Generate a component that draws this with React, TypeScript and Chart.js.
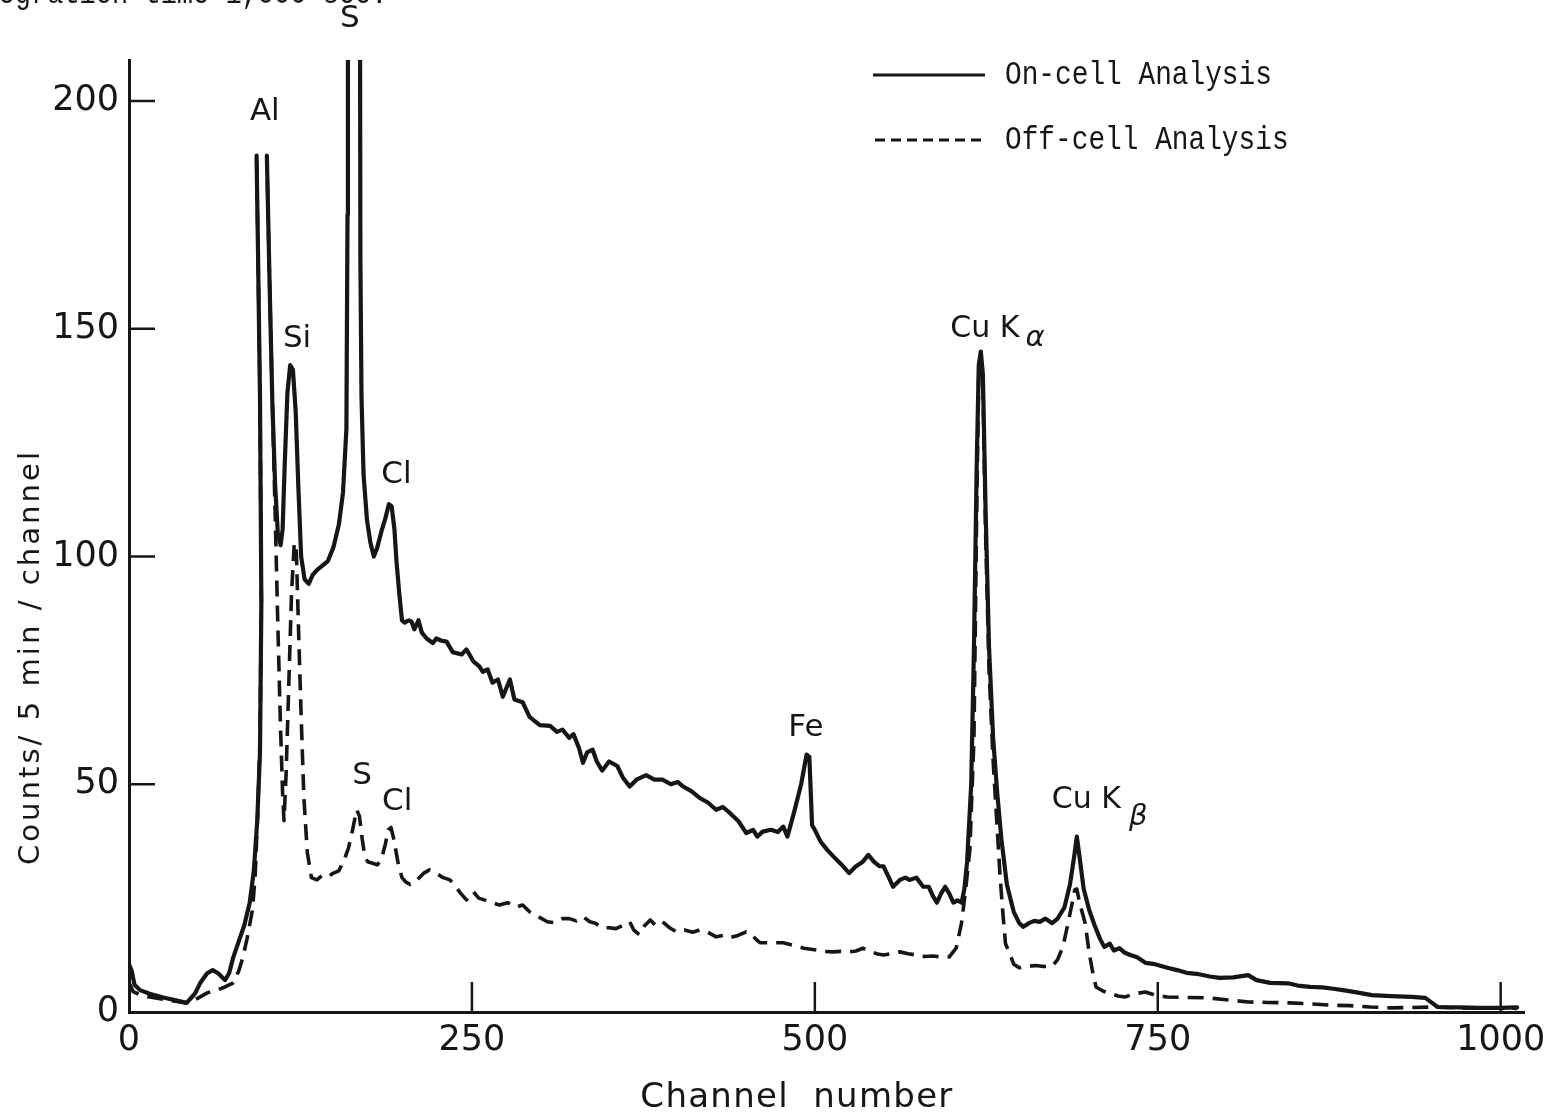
import React, { useEffect, useRef } from "react";
import { Chart, registerables } from "chart.js";

Chart.register(...registerables);

// ---------- data ----------
const seriesNames = ["On-cell Analysis", "Off-cell Analysis"];

const onCellX = [
  0, 2, 4, 8, 15, 25, 35, 42, 48, 52, 57, 61, 65, 70, 73, 76, 80, 84, 88, 91, 93.5, 95.5, 96.5, 95.5, 94, 93,
  96,
  100.5, 102.5, 104.5, 106.5, 108.5, 110.5, 112, 113.5, 115.5, 117.5, 119.5, 121.5, 123.5, 125.5, 128, 131, 134,
  137, 141, 145, 149, 153, 156, 158.5, 159.3, 159.6,
  164,
  168.3, 168.7, 169.5, 171, 173.5, 176, 178.5, 181, 184, 187, 189.5, 191.5, 193.5, 195, 197, 199, 201, 204, 206,
  208, 211, 213.5, 217, 221.5, 224, 228, 231.5, 236, 242.5, 246, 251, 255, 258, 261.5, 265, 269, 272.5, 277.7,
  281, 287, 292, 299.5, 307, 312, 316, 321, 324, 328, 331, 334, 338, 341, 345, 350, 356, 360, 365, 370, 377, 383,
  389, 395, 400, 404, 410, 416, 422, 428, 433, 438, 444, 450, 455, 458, 462, 468, 473, 477, 480, 485, 490, 494,
  496, 498, 500, 504, 509, 514, 519, 525, 530, 535, 539, 543, 547, 550, 554, 557, 562, 566, 569, 574, 579, 583,
  586, 589, 592, 595, 598, 601, 604, 607, 609, 611, 614, 616, 618, 619.5, 621, 622.5, 624.5, 627, 630, 633, 636,
  640, 645, 649, 652, 656, 660, 664, 668, 673, 677, 682, 686, 689, 691, 693, 696, 700, 704, 708, 711, 715, 718,
  722, 726, 730, 735, 741, 748, 757, 764, 771, 780, 788, 795, 805, 816, 822, 832, 845, 852, 861, 870, 878, 885,
  895, 906, 920, 935, 945, 950, 954, 970, 985, 1000, 1012,
];
const onCellY = [
  10.5, 9, 6, 4.8, 4, 3.2, 2.5, 2, 4, 6.4, 8.5, 9.2, 8.5, 7, 8.5, 12, 15.5, 19, 24, 31, 42, 57, 90, 135, 168, 188,
  null,
  188, 160, 134, 116, 105, 102.5, 106, 120, 136, 142, 141, 132, 115, 100, 95, 94, 96,
  97, 98, 99, 102, 107, 114, 128, 175, 240,
  null,
  240, 165, 135, 118, 108, 103, 100, 102, 105.5, 108.5, 111.5, 111, 106, 99, 92, 86, 85.5, 86, 85.7,
  84, 86, 83.3, 82, 81, 82, 81.5, 81.3, 79, 78.5, 79.6, 77, 76, 74.7, 75.2, 72.3, 73, 69.2, 73,
  68.6, 68, 64.8, 63, 62.8, 61.5, 62, 60.2, 61, 58, 54.7, 57, 57.6, 55, 53, 55, 54, 51.5, 49.5, 51, 52, 51,
  51, 50, 50.5, 49.5, 48.5, 47, 46, 44.4, 45, 43.7, 42, 39.3, 40, 38.5, 39.6, 40, 39.5, 40.7, 38.5, 44, 50, 56.5,
  56, 41, 40, 37.5, 35.6, 34, 32.5, 30.5, 32, 33, 34.5, 33, 32, 32, 29.5, 27.5, 29, 29.5, 29, 29.5, 27.5, 27.5,
  25.5, 24, 26, 27.5, 26, 24, 24.5, 24, 27, 33, 50, 80, 120, 142, 145, 140, 110, 80, 60, 48, 38,
  28, 22, 19.5, 18.7, 19.5, 20, 19.8, 20.5, 19.5, 20.5, 23, 28, 34, 38.5, 34, 27, 22.4, 19, 16, 14.3, 15, 13.5,
  14, 13, 12.5, 12, 10.8, 10.5, 9.7, 9.2, 8.6, 8.3, 7.8, 7.5, 7.6, 8.1, 7, 6.4, 6.3, 5.8, 5.5, 5.4, 5.1, 4.8,
  4.3, 3.7, 3.5, 3.3, 3.1, 2, 1.1, 1, 0.9, 0.9, 1,
];

const offCellX = [
  0, 3, 8, 15, 25, 35, 42, 50, 57, 64, 70, 76, 80, 83, 86, 90, 92, 94, 95.5, 96.5, 95.5, 94, 93,
  96,
  100.5, 102.5, 104.5, 106.5, 108.5, 110.5, 112, 113, 114.5, 116.5, 118.5, 120.5, 122, 123.5, 125.5, 127.5, 130,
  133, 137, 141, 145, 149, 153, 157, 160, 163, 166, 168, 170, 172, 174, 177, 181, 184, 187, 189, 191, 193, 196,
  199, 202, 205, 210, 215, 219, 224, 229, 234, 238, 242, 246, 251, 255, 260, 265, 270, 276, 282, 287, 292, 298,
  305, 310, 316, 321, 326, 331, 336, 340, 345, 350, 355, 360, 365, 368, 372, 376, 380, 384, 389, 394, 399, 405,
  411, 416, 422, 428, 433, 438, 444, 450, 453, 457, 460, 468, 477, 485, 492, 501, 507, 513, 519, 525, 530, 535,
  540, 545, 550, 556, 562, 568, 574, 580, 586, 592, 598, 603, 607, 610, 613, 616, 618, 619.5, 621, 622.5, 624.5,
  627, 630, 633, 635, 637, 639, 641, 645, 649, 655, 661, 667, 673, 677, 681, 684, 687, 689.5, 691, 693, 697, 700,
  703, 705, 710, 716, 721, 726, 733, 741, 749, 757, 770, 786, 800, 816, 830, 846, 860, 876, 890, 905, 921, 935,
  951, 970, 985, 1000, 1012,
];
const offCellY = [
  6.5, 4.5, 3.8, 3.3, 2.8, 2.3, 2, 3, 4.2, 4.8, 5.5, 6.4, 9, 12, 16, 22.4, 30, 45, 60, 90, 135, 168, 188,
  null,
  188, 160, 134, 110, 85, 62, 48, 42, 52, 72, 92, 103, 101, 85, 65, 47, 35,
  29.5, 29, 30, 29.7, 30.5, 31, 33.5, 36, 40, 44.4, 43, 38, 34, 33, 32.7, 32.3, 33.5, 37, 40, 40.5, 38, 33,
  29.5, 28.5, 28, 29, 30.5, 31.2, 30.5, 29.5, 29, 27.5, 26, 24.6, 26.4, 25, 24.5, 24, 23.5, 24, 23, 23.5, 22, 21,
  19.8, 19.6, 20.5, 20.5, 20, 20.9, 19.8, 19.5, 18.5, 18.5, 18.3, 19, 19.8, 18, 17, 19, 20.2, 19, 19.8, 18.5, 17.6, 18,
  17.5, 18, 17.5, 16.5, 16.8, 16.3, 16.8, 17.6, 17.3, 16, 15.2, 15.2, 15.2, 14.6, 14, 13.6, 13.3, 13.2, 13.3, 13.2, 13.4, 14,
  13.4, 12.8, 12.5, 12.8, 13.2, 12.8, 12.5, 12.2, 12.3, 12.1, 12.1, 14, 19.6, 27, 35.6, 60, 110, 140, 143, 138, 105,
  75, 55, 40, 30, 22, 15, 13.6, 10.5, 9.7, 10, 10.2, 10, 10, 11.5, 14.5, 18.7, 23, 26.8, 27, 24, 19.6, 13,
  8, 5.5, 4.6, 4, 3.5, 3.3, 4, 4.4, 3.6, 3.3, 3.2, 3.1, 2.7, 2.2, 2.1, 2, 1.8, 1.5, 1.4, 1.1, 0.9, 1,
  1.1, 0.9, 0.8, 0.9, 0.8,
];

const xTicks = [0, 250, 500, 750, 1000];
const yTicks = [0, 50, 100, 150, 200];

const xTitle = "Channel  number";
const yTitle = "Counts/ 5 min / channel";
const topNote = "Integration time 1,000 sec.";

// element labels placed in data coordinates
const peakLabels = [
  { text: "Al", x: 99, y: 197.6 },
  { text: "S", x: 161, y: 218 },
  { text: "Si", x: 122.5, y: 147.7 },
  { text: "Cl", x: 195, y: 118 },
  { text: "S", x: 170, y: 51.8 },
  { text: "Cl", x: 195.5, y: 46.2 },
  { text: "Fe", x: 493.5, y: 62.4 },
];
const greekLabels = [
  { text: "Cu K", sub: "α", x: 624, y: 150, dx: 6, dy: 10 },
  { text: "Cu K", sub: "β", x: 698, y: 46.6, dx: 8, dy: 18 },
];

const INK = "#161616";
const SANS = '"DejaVu Sans", "Noto Sans", sans-serif';
const MONO = '"Liberation Mono", "DejaVu Sans Mono", monospace';

const decorPlugin = {
  id: "decor",
  afterDraw(chart: any) {
    const ctx = chart.ctx as CanvasRenderingContext2D;
    const xs = chart.scales.x;
    const ys = chart.scales.y;
    const area = chart.chartArea;
    ctx.save();
    ctx.strokeStyle = INK;
    ctx.fillStyle = INK;
    ctx.lineWidth = 2.5;
    ctx.lineCap = "butt";
    // inward tick marks
    yTicks.forEach((v) => {
      if (v === 0) return;
      const y = ys.getPixelForValue(v);
      ctx.beginPath();
      ctx.moveTo(area.left, y);
      ctx.lineTo(area.left + 26, y);
      ctx.stroke();
    });
    xTicks.forEach((v) => {
      if (v === 0) return;
      const x = xs.getPixelForValue(v);
      ctx.beginPath();
      ctx.moveTo(x, area.bottom);
      ctx.lineTo(x, area.bottom - 30);
      ctx.stroke();
    });

    // peak labels
    ctx.font = `31px ${SANS}`;
    ctx.textAlign = "center";
    ctx.textBaseline = "middle";
    peakLabels.forEach((l) => {
      ctx.fillText(l.text, xs.getPixelForValue(l.x), ys.getPixelForValue(l.y));
    });
    greekLabels.forEach((l) => {
      const cx = xs.getPixelForValue(l.x);
      const cy = ys.getPixelForValue(l.y);
      ctx.font = `30px ${SANS}`;
      ctx.textAlign = "center";
      ctx.fillText(l.text, cx, cy);
      const w = ctx.measureText(l.text).width;
      ctx.font = `italic 29px ${SANS}`;
      ctx.textAlign = "left";
      ctx.fillText(l.sub, cx + w / 2 + l.dx, cy + l.dy);
    });

    // legend
    const legendX0 = 873;
    const legendX1 = 985;
    const rows = [75, 140];
    ctx.lineWidth = 3;
    ctx.beginPath();
    ctx.moveTo(legendX0, rows[0]);
    ctx.lineTo(legendX1, rows[0]);
    ctx.stroke();
    ctx.setLineDash([10, 6]);
    ctx.beginPath();
    ctx.moveTo(legendX0 + 2, rows[1]);
    ctx.lineTo(legendX1, rows[1]);
    ctx.stroke();
    ctx.setLineDash([]);
    ctx.textAlign = "left";
    ctx.textBaseline = "middle";
    seriesNames.forEach((name, i) => {
      ctx.save();
      ctx.translate(1005, rows[i]);
      ctx.scale(1, 1.2);
      ctx.font = `27.8px ${MONO}`;
      ctx.fillText(name, 0, 0);
      ctx.restore();
    });

    // note at the top (cut off)
    ctx.save();
    ctx.font = `27px ${MONO}`;
    ctx.textBaseline = "alphabetic";
    ctx.textAlign = "left";
    ctx.translate(-50, 3);
    ctx.scale(1, 1.2);
    ctx.fillText(topNote, 0, 0);
    ctx.restore();

    // axis titles
    ctx.font = `34px ${SANS}`;
    ctx.textAlign = "center";
    ctx.textBaseline = "middle";
    const wx = ctx.measureText(xTitle).width;
    (ctx as any).letterSpacing = `${Math.max(0, (312 - wx) / (xTitle.length - 1))}px`;
    ctx.fillText(xTitle, 797, 1098);
    (ctx as any).letterSpacing = "0px";

    ctx.save();
    ctx.translate(39, 657);
    ctx.rotate(-Math.PI / 2);
    ctx.font = `29px ${SANS}`;
    ctx.textBaseline = "alphabetic";
    const wy = ctx.measureText(yTitle).width;
    (ctx as any).letterSpacing = `${Math.max(0, (413 - wy) / (yTitle.length - 1))}px`;
    ctx.fillText(yTitle, 0, 0);
    (ctx as any).letterSpacing = "0px";
    ctx.restore();

    ctx.restore();
  },
};

export default function App() {
  const canvasRef = useRef<HTMLCanvasElement | null>(null);

  useEffect(() => {
    const canvas = canvasRef.current;
    if (!canvas) return;
    const onData = onCellX.map((x, i) => ({ x, y: onCellY[i] }));
    const offData = offCellX.map((x, i) => ({ x, y: offCellY[i] }));
    const tickFont = { family: SANS, size: 35 };
    const chart = new Chart(canvas, {
      type: "line",
      data: {
        datasets: [
          {
            label: seriesNames[0],
            data: onData as any,
            borderColor: INK,
            borderWidth: 4.2,
            pointRadius: 0,
            tension: 0,
            spanGaps: false,
            borderJoinStyle: "round",
            borderCapStyle: "round",
          },
          {
            label: seriesNames[1],
            data: offData as any,
            borderColor: INK,
            borderWidth: 3.6,
            borderDash: [16, 9],
            pointRadius: 0,
            tension: 0,
            spanGaps: false,
            borderJoinStyle: "round",
          },
        ],
      },
      options: {
        animation: false,
        responsive: false,
        maintainAspectRatio: false,
        layout: { padding: { top: 60, right: 20, left: 0, bottom: 0 } },
        plugins: { legend: { display: false }, tooltip: { enabled: false } },
        scales: {
          x: {
            type: "linear",
            min: 0,
            max: 1017,
            grid: { display: false, drawTicks: false },
            border: { display: true, width: 3, color: INK },
            ticks: {
              font: tickFont,
              color: INK,
              padding: 8,
              maxRotation: 0,
              autoSkip: false,
              callback: (v: any) => String(v),
            },
            afterBuildTicks: (s: any) => {
              s.ticks = xTicks.map((v) => ({ value: v }));
            },
            afterFit: (s: any) => {
              s.height = 107;
              s.paddingLeft = 0;
              s.paddingRight = 0;
            },
          },
          y: {
            type: "linear",
            min: 0,
            max: 209,
            grid: { display: false, drawTicks: false },
            border: { display: true, width: 3, color: INK },
            ticks: { font: tickFont, color: INK, padding: 10, autoSkip: false, callback: (v: any) => String(v) },
            afterBuildTicks: (s: any) => {
              s.ticks = yTicks.map((v) => ({ value: v }));
            },
            afterFit: (s: any) => {
              s.width = 129;
              s.paddingTop = 0;
              s.paddingBottom = 0;
            },
          },
        },
      },
      plugins: [decorPlugin],
    });
    return () => chart.destroy();
  }, []);

  return (
    <div style={{ position: "absolute", left: 0, top: 0, width: 1544, height: 1119, background: "#fff" }}>
      <canvas ref={canvasRef} width={1544} height={1119} style={{ display: "block" }} />
    </div>
  );
}
